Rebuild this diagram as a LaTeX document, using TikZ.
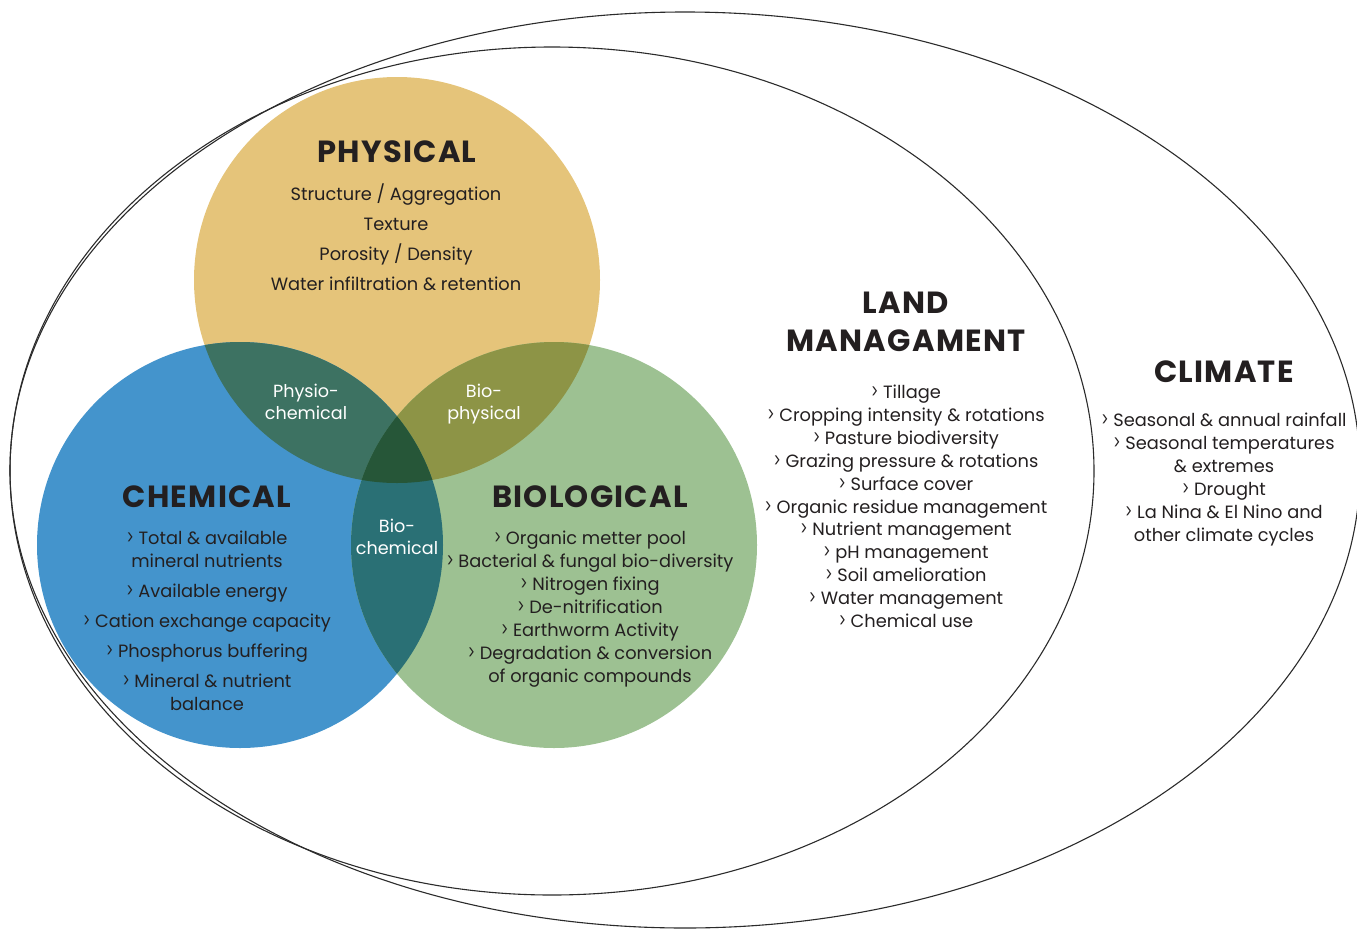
\documentclass[tikz,border=0pt]{standalone}
\usepackage{fontspec}
\usepackage{graphicx}
\setmainfont{Poppins}
\newfontfamily\headfont{Poppins}[LetterSpace=4]
\newcommand{\chev}{\scalebox{0.75}[1.1]{>}\space}
\definecolor{ink}{HTML}{231F20}
\definecolor{rim}{HTML}{2B2B2B}
\definecolor{physfill}{RGB}{229,196,122}
\definecolor{chemfill}{RGB}{ 68,148,204}
\definecolor{biofill}{RGB}{157,193,146}
\definecolor{physchem}{RGB}{ 61,114, 98}
\definecolor{biophys}{RGB}{141,148, 70}
\definecolor{biochem}{RGB}{ 42,112,117}
\definecolor{allthree}{RGB}{ 38, 86, 56}
\tikzset{
	head/.style={font=\headfont\bfseries\fontsize{30.6}{30.6}\selectfont, text=ink, anchor=base, inner sep=0pt},
	item/.style={font=\fontsize{17.8}{17.8}\selectfont, text=ink, anchor=base, inner sep=0pt},
	mixed/.style={item, text=white, font=\fontsize{17.6}{17.6}\selectfont},
	ring/.style={draw=rim, line width=1.1pt}
}

\begin{document}
\begin{tikzpicture}[x=1pt, y=-1pt]
	\useasboundingbox (0,0) rectangle (1357,929);

	% climate and land management
	\draw[ring] (685,470) ellipse (675 and 458);
	\draw[ring] (552,471) ellipse (542 and 424);

	% three circles
	\coordinate (phys) at (397,280);
	\coordinate (chem) at (240,545);
	\coordinate (bio) at (554,545);
	\fill[physfill] (phys) circle (203);
	\fill[chemfill] (chem) circle (203);
	\fill[biofill] (bio) circle (203);

	% overlaps
	\begin{scope}
		\clip (phys) circle (203);
		\fill[physchem] (chem) circle (203);
		\fill[biophys] (bio) circle (203);
	\end{scope}
	\begin{scope}
		\clip (chem) circle (203);
		\fill[biochem] (bio) circle (203);
	\end{scope}
	\begin{scope}
		\clip (phys) circle (203);
		\clip (chem) circle (203);
		\fill[allthree] (bio) circle (203);
	\end{scope}

	% headings
	\node[head] (physT) at (397,162) {PHYSICAL};
	\node[head] (chemT) at (207,507) {CHEMICAL};
	\node[head] (bioT) at (590,507) {BIOLOGICAL};
	\node[head] (landT) at (906,313) {LAND};
	\node[head] (landT2) at (906,351) {MANAGAMENT};
	\node[head] (climT) at (1224,382) {CLIMATE};

	% physical
	\foreach \y/\t [count=\i] in {
		200/{Structure / Aggregation},
		230/{Texture},
		260/{Porosity / Density},
		290/{Water infiltration \& retention}
	}{
		\node[item] (phys\i) at (396,\y) {\t};
	}

	% chemical
	\foreach \y/\t [count=\i] in {
		544.5/{\chev Total \& available},
		567.5/{mineral nutrients},
		597.5/{\chev Available energy},
		627.5/{\chev Cation exchange capacity},
		657.5/{\chev Phosphorus buffering},
		687.5/{\chev Mineral \& nutrient},
		710.5/{balance}
	}{
		\node[item] (chem\i) at (207,\y) {\t};
	}

	% biological
	\foreach \y/\t [count=\i] in {
		544.5/{\chev Organic metter pool},
		567.5/{\chev Bacterial \& fungal bio-diversity},
		590.5/{\chev Nitrogen fixing},
		613.5/{\chev De-nitrification},
		636.5/{\chev Earthworm Activity},
		659.5/{\chev Degradation \& conversion},
		682.5/{of organic compounds}
	}{
		\node[item] (bio\i) at (590,\y) {\t};
	}

	% land management
	\foreach \t [count=\i] in {
		{\chev Tillage},
		{\chev Cropping intensity \& rotations},
		{\chev Pasture biodiversity},
		{\chev Grazing pressure \& rotations},
		{\chev Surface cover},
		{\chev Organic residue management},
		{\chev Nutrient management},
		{\chev pH management},
		{\chev Soil amelioration},
		{\chev Water management},
		{\chev Chemical use}
	}{
		\node[item] (land\i) at (906,375.6+22.9*\i) {\t};
	}

	% climate
	\foreach \t [count=\i] in {
		{\chev Seasonal \& annual rainfall},
		{\chev Seasonal temperatures},
		{\& extremes},
		{\chev Drought},
		{\chev La Nina \& El Nino and},
		{other climate cycles}
	}{
		\node[item] (clim\i) at (1224,403.5+23*\i) {\t};
	}

	% overlap labels
	\node[mixed] (pc1) at (306,397) {Physio-};
	\node[mixed] (pc2) at (306,419) {chemical};
	\node[mixed] (bp1) at (484,397) {Bio-};
	\node[mixed] (bp2) at (484,419) {physical};
	\node[mixed] (bc1) at (397,532) {Bio-};
	\node[mixed] (bc2) at (397,554) {chemical};
\end{tikzpicture}
\end{document}
